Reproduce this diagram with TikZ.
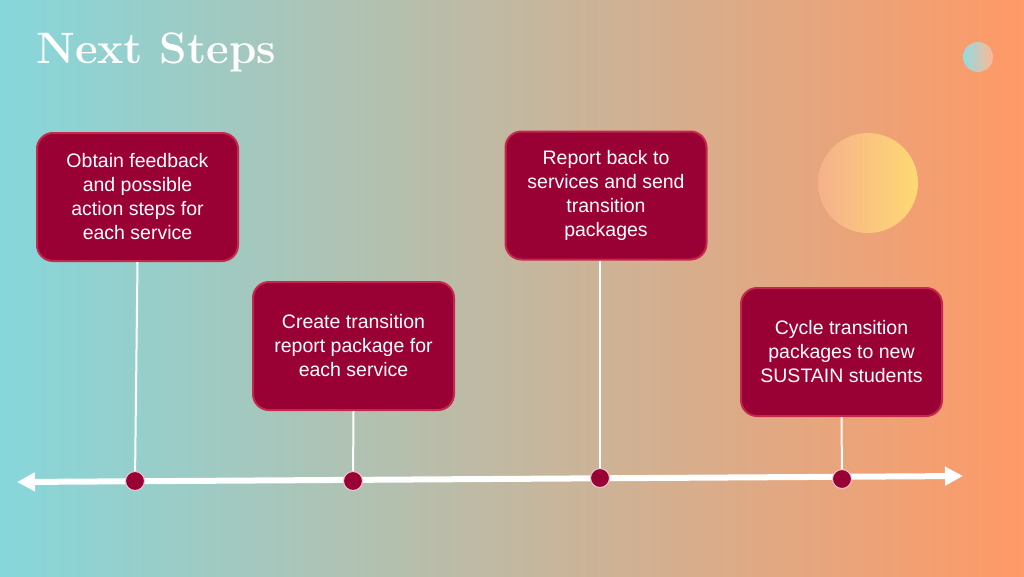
\documentclass[tikz,border=0pt]{standalone}
\usepackage{fontspec}
\newfontfamily\boxfont{Liberation Sans}
\usetikzlibrary{arrows.meta}

\definecolor{bgleft}{HTML}{86D7DB}
\definecolor{bgright}{HTML}{FF9966}
\definecolor{stepred}{HTML}{990033}
\definecolor{stepedge}{HTML}{C4284C}

\tikzset{
  stepbox/.style={draw=stepedge, line width=2pt, fill=stepred, rounded corners=16pt,
    minimum width=201pt, minimum height=128pt, align=center,
    text=white, font=\boxfont\fontsize{19.5}{24}\selectfont},
  stepdot/.style={circle, fill=stepred, draw=white!80!stepred, line width=1pt,
    minimum size=19pt, inner sep=0pt},
  stem/.style={draw=white, line width=2pt},
}

\begin{document}
\begin{tikzpicture}[x=1pt,y=-1pt]
  % Background
  \shade[left color=bgleft, right color=bgright] (0,0) rectangle (1024,576);
  \useasboundingbox (0,0) rectangle (1024,576);

  % Decorative circles
  \shade[left color=bgleft!90!white, right color=bgright!70!white] (978,57) circle (15pt);
  \shade[left color=bgright!80!white!92!bgleft, right color=yellow!45!orange!55!white] (868,183) circle (50pt);

  \node[anchor=base west, text=white, font=\fontsize{44}{44}\selectfont\bfseries] (title) at (33,63) {Next Steps};

  % Timeline
  \coordinate (tl) at (17,482);
  \coordinate (tr) at (963,476);
  \draw[white, line width=6pt, {Triangle[width=18pt,length=18pt]}-{Triangle[width=18pt,length=18pt]}] (tl) -- (tr);

  % Steps
  \node[stepbox] (obtain) at (137.5,197) {Obtain feedback\\and possible\\action steps for\\each service};
  \node[stepbox] (create) at (353.5,346) {Create transition\\report package for\\each service};
  \node[stepbox] (report) at (606,195.5) {Report back to\\services and send\\transition\\packages};
  \node[stepbox] (cycle)  at (841.5,352) {Cycle transition\\packages to new\\SUSTAIN students};

  \coordinate (s1) at (135,481);
  \coordinate (s2) at (353,481);
  \coordinate (s3) at (600,478);
  \coordinate (s4) at (842,479);

  \draw[stem] (obtain.south) -- (s1);
  \draw[stem] (create.south) -- (s2);
  \draw[stem] (report.south -| s3) -- (s3);
  \draw[stem] (cycle.south) -- (s4);

  \node[stepdot] (d1) at (s1) {};
  \node[stepdot] (d2) at (s2) {};
  \node[stepdot] (d3) at (s3) {};
  \node[stepdot] (d4) at (s4) {};
\end{tikzpicture}
\end{document}
